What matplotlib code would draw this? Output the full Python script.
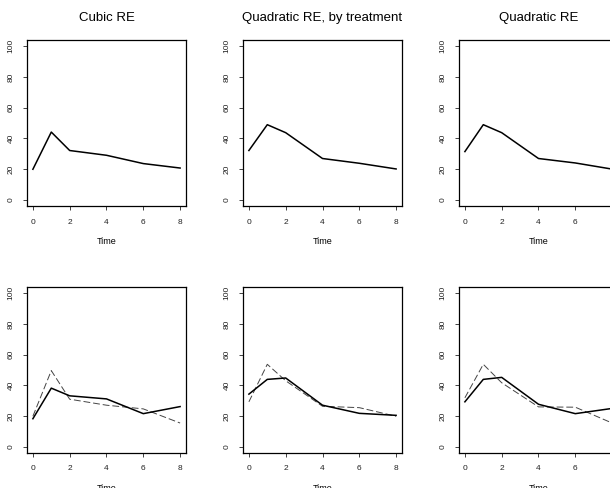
import matplotlib
matplotlib.use("Agg")
import matplotlib.pyplot as plt

plt.rcParams['font.family'] = ['Liberation Sans', 'DejaVu Sans']

# observation times (weeks)
time = [0, 1, 2, 4, 6, 8]

# fitted mean curves, one per model
titles = ["Cubic RE", "Quadratic RE, by treatment", "Quadratic RE"]
fit_top = [
    [19.9, 44.1, 32.1, 29.0, 23.6, 20.7],
    [32.1, 48.9, 43.7, 26.9, 23.8, 20.1],
    [31.4, 48.9, 43.7, 26.9, 24.0, 20.0],
]

# bottom row: fitted (solid) vs observed (dashed)
fit_bottom = [
    [18.3, 38.2, 33.2, 31.2, 21.6, 26.2],
    [34.3, 43.9, 44.8, 27.1, 21.8, 20.5],
    [29.3, 43.9, 45.2, 27.7, 21.6, 25.0],
]
obs_bottom = [
    [19.9, 49.6, 31.0, 27.1, 24.7, 15.5],
    [29.3, 53.7, 43.0, 26.4, 25.5, 19.9],
    [31.9, 53.7, 41.7, 26.0, 25.8, 15.5],
]

xticks = [0, 2, 4, 6, 8]
yticks = [0, 20, 40, 60, 80, 100]

W, H = 610, 488
fig = plt.figure(figsize=(W / 100, H / 100), dpi=100)

lefts = [27, 243, 459]
tops = [40, 287]
pw, ph = 159, 166


def setup(ax):
    ax.set_xlim(-0.32, 8.32)
    ax.set_ylim(-4, 104)
    ax.set_xticks(xticks)
    ax.set_yticks(yticks)
    ax.tick_params(labelsize=6, length=3, width=0.6, pad=6, colors='#222222')
    for lab in ax.get_yticklabels():
        lab.set_rotation(90)
        lab.set_va('center')
    for s in ax.spines.values():
        s.set_linewidth(0.9)
    ax.set_xlabel("Time", fontsize=6.5, labelpad=8)


for row in range(2):
    for col in range(3):
        l = lefts[col] / W
        b = 1 - (tops[row] + ph) / H
        ax = fig.add_axes([l, b, pw / W, ph / H])
        setup(ax)
        if col == 2:
            # right panel runs past the page edge; drop the label that would be sliced
            ax.set_xticks(xticks, [str(t) for t in xticks[:-1]] + [""])
        if row == 0:
            ax.plot(time, fit_top[col], color='black', lw=1.1)
            ax.set_title(titles[col], fontsize=9.5, pad=14)
        else:
            ax.plot(time, obs_bottom[col], color='#444444', lw=0.7,
                    linestyle=(0, (7, 3)))
            ax.plot(time, fit_bottom[col], color='black', lw=1.1)

fig.savefig("out.png", dpi=100)
